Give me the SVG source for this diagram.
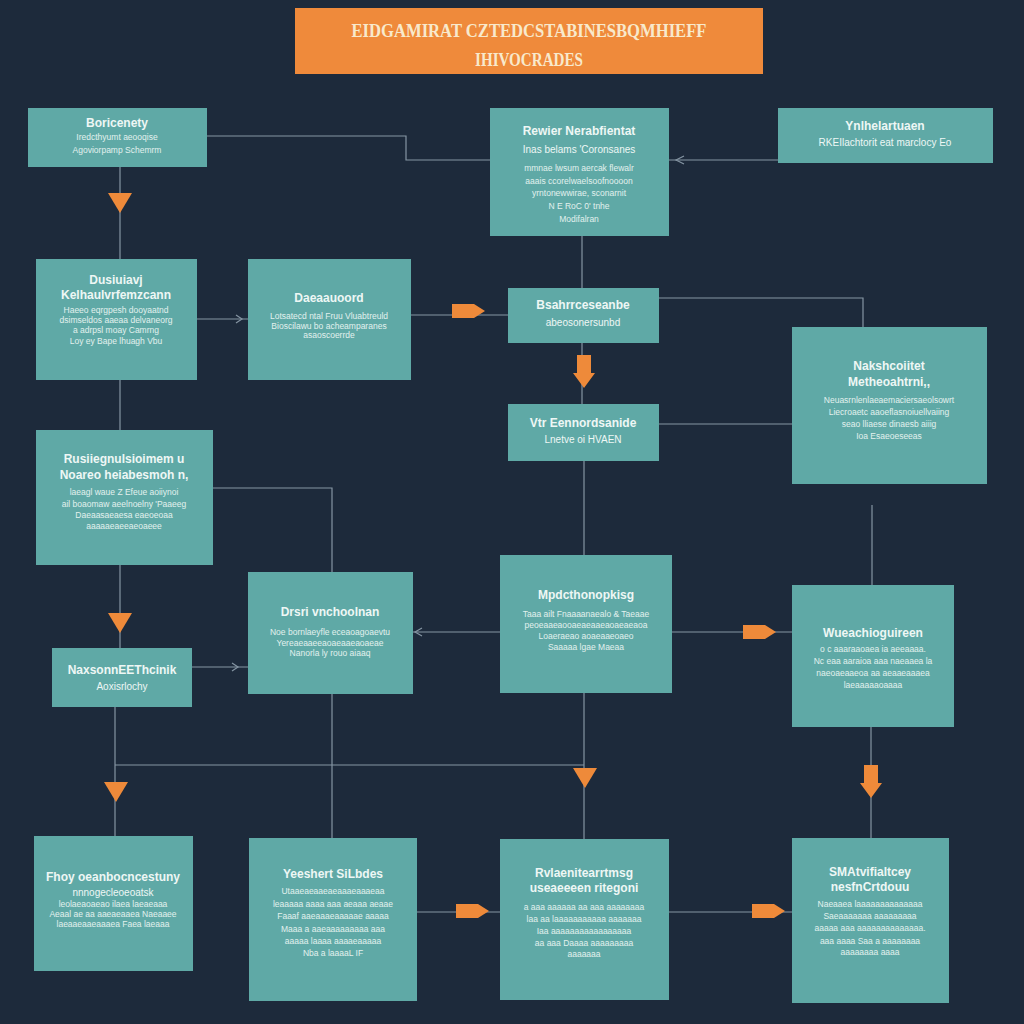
<svg xmlns="http://www.w3.org/2000/svg" width="1024" height="1024" viewBox="0 0 1024 1024">
<defs>
<style>
.bg{fill:#1d2a3b}
.box{fill:#5fa9a6}
.t{font-family:"Liberation Sans","DejaVu Sans",sans-serif;fill:#eef7f5;text-anchor:middle}
.h{font-size:12px;font-weight:bold}
.s{font-size:10px}
.b{font-size:8.5px;fill:#e2f1ee}
.ttl{font-family:"Liberation Serif","DejaVu Serif",serif;font-weight:bold;font-size:18px;fill:#f8e9cc;text-anchor:middle}
.ln{fill:none;stroke:#8595a3;stroke-width:1.2}
.or{fill:#ee8a3a}
</style>
<polygon id="tri" points="-12,0 12,0 0,20" class="or"/>
<polygon id="rarrow" points="0,-7 22,-7 33,0 22,7 0,7" class="or"/>
<polygon id="darrow" points="-7,0 7,0 7,18 11,18 0,33 -11,18 -7,18" class="or"/>
</defs>
<rect class="bg" width="1024" height="1024"/>

<g id="title">
<rect x="295" y="8" width="468" height="66" fill="#ef8a3b"/>
<text class="ttl" x="529" y="37" textLength="355" lengthAdjust="spacingAndGlyphs">EIDGAMIRAT CZTEDCSTABINESBQMHIEFF</text>
<text class="ttl" x="529" y="66" textLength="108" lengthAdjust="spacingAndGlyphs">IHIVOCRADES</text>
</g>

<g id="connectors">
<path class="ln" d="M207,136 H406 V160 H490"/>
<path class="ln" d="M778,160 H669"/>
<path class="ln" d="M684,156 L676,160 L684,164"/>
<path class="ln" d="M120,167 V259"/>
<path class="ln" d="M197,319 H248"/>
<path class="ln" d="M236,315 L242,319 L236,323"/>
<path class="ln" d="M411,315 H508"/>
<path class="ln" d="M582,236 V288"/>
<path class="ln" d="M659,298 H863 V327"/>
<path class="ln" d="M582,343 V404"/>
<path class="ln" d="M659,424 H792"/>
<path class="ln" d="M120,380 V430"/>
<path class="ln" d="M213,488 H332 V572"/>
<path class="ln" d="M584,461 V555"/>
<path class="ln" d="M872,505 V585"/>
<path class="ln" d="M120,565 V648"/>
<path class="ln" d="M192,667 H248"/>
<path class="ln" d="M232,663 L238,667 L232,671"/>
<path class="ln" d="M500,632 H413"/>
<path class="ln" d="M422,628 L415,632 L422,636"/>
<path class="ln" d="M672,632 H792"/>
<path class="ln" d="M115,707 V836"/>
<path class="ln" d="M115,765 H584"/>
<path class="ln" d="M584,693 V839"/>
<path class="ln" d="M332,694 V838"/>
<path class="ln" d="M871,727 V838"/>
<path class="ln" d="M417,912 H500"/>
<path class="ln" d="M669,912 H792"/>
<use href="#tri" x="120" y="193"/>
<use href="#rarrow" x="452" y="311"/>
<use href="#darrow" x="584" y="355"/>
<use href="#tri" x="120" y="613"/>
<use href="#rarrow" x="743" y="632"/>
<use href="#tri" x="116" y="782"/>
<use href="#tri" x="585" y="768"/>
<use href="#darrow" x="871" y="765"/>
<use href="#rarrow" x="456" y="911"/>
<use href="#rarrow" x="752" y="911"/>
</g>

<g id="nodeA">
<rect class="box" x="28" y="108" width="179" height="59"/>
<text class="t h" x="117" y="127">Boricenety</text>
<text class="t b" x="117" y="140">Iredcthyumt aeooqise</text>
<text class="t b" x="117" y="153">Agoviorpamp Schemrm</text>
</g>

<g id="nodeB">
<rect class="box" x="490" y="108" width="179" height="128"/>
<text class="t h" x="579" y="135">Rewier Nerabfientat</text>
<text class="t s" x="579" y="153">Inas belams 'Coronsanes</text>
<text class="t b" x="579" y="171">mmnae lwsum aercak flewalr</text>
<text class="t b" x="579" y="184">aaais ccorelwaelsoofnoooon</text>
<text class="t b" x="579" y="196">yrntonewwirae, sconarnit</text>
<text class="t b" x="579" y="209">N E RoC 0' tnhe</text>
<text class="t b" x="579" y="222">Modifalran</text>
</g>

<g id="nodeC">
<rect class="box" x="778" y="108" width="215" height="55"/>
<text class="t h" x="885" y="130">Ynlhelartuaen</text>
<text class="t s" x="885" y="146">RKEIlachtorit eat marclocy Eo</text>
</g>

<g id="nodeD">
<rect class="box" x="36" y="259" width="161" height="121"/>
<text class="t h" x="116" y="284">Dusiuiavj</text>
<text class="t h" x="116" y="299">Kelhaulvrfemzcann</text>
<text class="t b" x="116" y="313">Haeeo eqrgpesh dooyaatnd</text>
<text class="t b" x="116" y="323">dsimseldos aaeaa delvaneorg</text>
<text class="t b" x="116" y="333">a adrpsl moay Camrng</text>
<text class="t b" x="116" y="344">Loy ey Bape lhuagh Vbu</text>
</g>

<g id="nodeE">
<rect class="box" x="248" y="259" width="163" height="121"/>
<text class="t h" x="329" y="302">Daeaauoord</text>
<text class="t b" x="329" y="319">Lotsatecd ntal Fruu Vluabtreuld</text>
<text class="t b" x="329" y="329">Bioscilawu bo acheamparanes</text>
<text class="t b" x="329" y="338">asaoscoerrde</text>
</g>

<g id="nodeF">
<rect class="box" x="508" y="288" width="151" height="55"/>
<text class="t h" x="583" y="309">Bsahrrceseanbe</text>
<text class="t s" x="583" y="326">abeosonersunbd</text>
</g>

<g id="nodeG">
<rect class="box" x="508" y="404" width="151" height="57"/>
<text class="t h" x="583" y="427">Vtr Eennordsanide</text>
<text class="t s" x="583" y="443">Lnetve oi HVAEN</text>
</g>

<g id="nodeH">
<rect class="box" x="792" y="327" width="195" height="157"/>
<text class="t h" x="889" y="370">Nakshcoiitet</text>
<text class="t h" x="889" y="386">Metheoahtrni,,</text>
<text class="t b" x="889" y="403">Neuasrnlenlaeaemaciersaeolsowrt</text>
<text class="t b" x="889" y="415">Liecroaetc aaoeflasnoiuellvaiing</text>
<text class="t b" x="889" y="427">seao lliaese dinaesb aiiig</text>
<text class="t b" x="889" y="439">Ioa Esaeoeseeas</text>
</g>

<g id="nodeI">
<rect class="box" x="36" y="430" width="177" height="135"/>
<text class="t h" x="124" y="463">Rusiiegnulsioimem u</text>
<text class="t h" x="124" y="479">Noareo heiabesmoh n,</text>
<text class="t b" x="124" y="495">laeagl waue Z Efeue aoiiynoi</text>
<text class="t b" x="124" y="507">ail boaomaw aeelnoelny 'Paaeeg</text>
<text class="t b" x="124" y="518">Daeaasaeaesa eaeoeoaa</text>
<text class="t b" x="124" y="529">aaaaaeaeeaeoaeee</text>
</g>

<g id="nodeJ">
<rect class="box" x="248" y="572" width="165" height="122"/>
<text class="t h" x="330" y="616">Drsri vnchoolnan</text>
<text class="t b" x="330" y="635">Noe bornlaeyfle eceaoagoaevtu</text>
<text class="t b" x="330" y="646">Yereaeaaeeaoaeaaeaoaeae</text>
<text class="t b" x="330" y="656">Nanorla ly rouo aiaaq</text>
</g>

<g id="nodeK">
<rect class="box" x="500" y="555" width="172" height="138"/>
<text class="t h" x="586" y="599">Mpdcthonopkisg</text>
<text class="t b" x="586" y="617">Taaa ailt Fnaaaanaealo &amp; Taeaae</text>
<text class="t b" x="586" y="628">peoeaaeaooaeaeaaeaoaeaeaoa</text>
<text class="t b" x="586" y="639">Loaeraeao aoaeaaeoaeo</text>
<text class="t b" x="586" y="650">Saaaaa lgae Maeaa</text>
</g>

<g id="nodeL">
<rect class="box" x="792" y="585" width="162" height="142"/>
<text class="t h" x="873" y="637">Wueachioguireen</text>
<text class="t b" x="873" y="652">o c aaaraaoaea ia aeeaaaa.</text>
<text class="t b" x="873" y="664">Nc eaa aaraioa aaa naeaaea la</text>
<text class="t b" x="873" y="676">naeoaeaaeoa aa aeaaeaaaea</text>
<text class="t b" x="873" y="688">laeaaaaaoaaaa</text>
</g>

<g id="nodeM">
<rect class="box" x="52" y="648" width="140" height="59"/>
<text class="t h" x="122" y="674">NaxsonnEEThcinik</text>
<text class="t s" x="122" y="690">Aoxisrlochy</text>
</g>

<g id="nodeN">
<rect class="box" x="34" y="836" width="159" height="135"/>
<text class="t h" x="113" y="881">Fhoy oeanbocncestuny</text>
<text class="t s" x="113" y="896">nnnogecleoeoatsk</text>
<text class="t b" x="113" y="907">leolaeaoaeao ilaea laeaeaaa</text>
<text class="t b" x="113" y="917">Aeaal ae aa aaeaeaaea Naeaaee</text>
<text class="t b" x="113" y="927">laeaaeaaeaaaea Faea laeaaa</text>
</g>

<g id="nodeO">
<rect class="box" x="249" y="838" width="168" height="163"/>
<text class="t h" x="333" y="878">Yeeshert SiLbdes</text>
<text class="t b" x="333" y="894">Utaaeaeaaeaeaaaeaaaeaa</text>
<text class="t b" x="333" y="907">leaaaaa aaaa aaa aeaaa aeaae</text>
<text class="t b" x="333" y="919">Faaaf aaeaaaeaaaaae aaaaa</text>
<text class="t b" x="333" y="932">Maaa a aaeaaaaaaaaa aaa</text>
<text class="t b" x="333" y="944">aaaaa laaaa aaaaeaaaaa</text>
<text class="t b" x="333" y="956">Nba a laaaaL IF</text>
</g>

<g id="nodeP">
<rect class="box" x="500" y="839" width="169" height="161"/>
<text class="t h" x="584" y="877">Rvlaenitearrtmsg</text>
<text class="t h" x="584" y="892">useaeeeen ritegoni</text>
<text class="t b" x="584" y="910">a aaa aaaaaa aa aaa aaaaaaaa</text>
<text class="t b" x="584" y="922">laa aa laaaaaaaaaaa aaaaaaa</text>
<text class="t b" x="584" y="934">Iaa aaaaaaaaaaaaaaaaa</text>
<text class="t b" x="584" y="946">aa aaa Daaaa aaaaaaaaa</text>
<text class="t b" x="584" y="957">aaaaaaa</text>
</g>

<g id="nodeQ">
<rect class="box" x="792" y="838" width="157" height="165"/>
<text class="t h" x="870" y="876">SMAtvifialtcey</text>
<text class="t h" x="870" y="891">nesfnCrtdouu</text>
<text class="t b" x="870" y="907">Naeaaea laaaaaaaaaaaaaa</text>
<text class="t b" x="870" y="919">Saeaaaaaaa aaaaaaaaa</text>
<text class="t b" x="870" y="931">aaaaa aaa aaaaaaaaaaaaaa.</text>
<text class="t b" x="870" y="944">aaa aaaa Saa a aaaaaaaa</text>
<text class="t b" x="870" y="955">aaaaaaaa aaaa</text>
</g>
</svg>
